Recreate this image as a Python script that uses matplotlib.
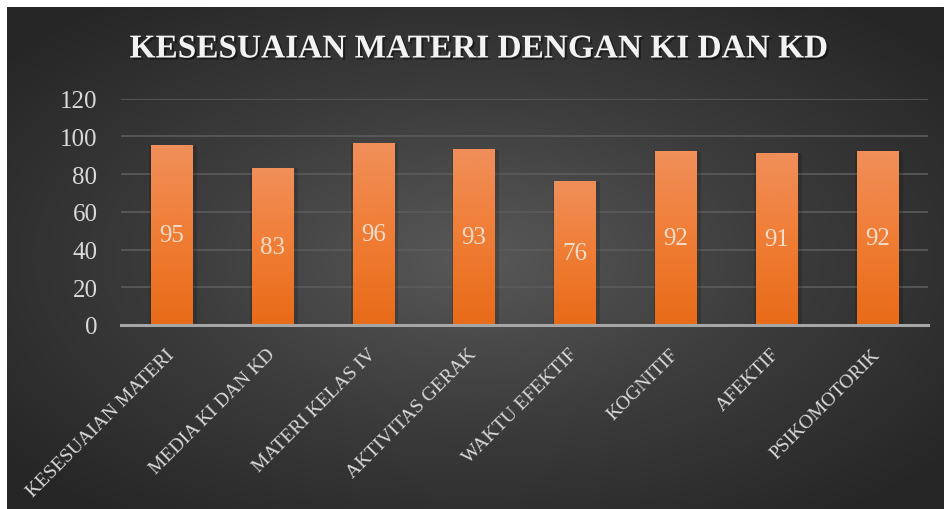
import matplotlib.pyplot as plt
import matplotlib.patheffects as pe
import numpy as np
from matplotlib.colors import LinearSegmentedColormap

plt.rcParams['font.family'] = ['Liberation Serif', 'DejaVu Serif']

categories = ['KESESUAIAN MATERI', 'MEDIA KI DAN KD', 'MATERI KELAS IV', 'AKTIVITAS GERAK',
              'WAKTU EFEKTIF', 'KOGNITIF', 'AFEKTIF', 'PSIKOMOTORIK']
values = [95, 83, 96, 93, 76, 92, 91, 92]
yticks = [0, 20, 40, 60, 80, 100, 120]
title = 'KESESUAIAN MATERI DENGAN KI DAN KD'

txt_col = '#d9d9d9'

fig = plt.figure(figsize=(9.44, 5.10), dpi=100)
fig.patch.set_facecolor('white')

# radial background
bg = fig.add_axes([7 / 944, 0, 1 - 7 / 944, 1 - 8 / 510])
bg.set_axis_off()
yy, xx = np.mgrid[-1:1:300j, -1:1:500j]
r = np.clip(np.sqrt(xx ** 2 + yy ** 2) / 1.3, 0, 1)
bg_cmap = LinearSegmentedColormap.from_list('bg', ['#585858', '#3c3c3c', '#262626'])
bg.imshow(r, cmap=bg_cmap, aspect='auto', extent=[0, 1, 0, 1], vmin=0, vmax=1)
bg.set_xlim(0, 1)
bg.set_ylim(0, 1)

ax = fig.add_axes([121 / 944, 1 - 326 / 510, (928 - 121) / 944, (326 - 99.7) / 510])
ax.patch.set_alpha(0)
x = np.arange(len(categories))
bars = ax.bar(x, values, width=0.41, color='#ee7a30', zorder=3)

bar_cmap = LinearSegmentedColormap.from_list('bar', ['#e86b18', '#f07d35', '#f08f5a'])
grad = np.linspace(0, 1, 100).reshape(-1, 1)
for b, v in zip(bars, values):
    x0, w, h = b.get_x(), b.get_width(), b.get_height()
    # soft shadow
    ax.bar(x0 + w / 2 + 0.015, h, width=w + 0.06, color='black', alpha=0.15, zorder=2)
    ax.imshow(grad, cmap=bar_cmap, aspect='auto', origin='lower',
              extent=[x0, x0 + w, 0, h], zorder=4)
    ax.text(x0 + w / 2, h / 2, str(v), ha='center', va='center', fontsize=18,
            color='#f0dccb', zorder=5)

ax.set_xlim(-0.5, len(categories) - 0.5)
ax.set_ylim(0, 120)
ax.set_yticks(yticks)
ax.set_yticklabels([str(t) for t in yticks])
ax.set_xticks(x)
ax.set_xticklabels(categories, rotation=45, ha='right', va='center', rotation_mode='anchor')
ax.tick_params(axis='y', length=0, pad=17, labelsize=18, labelcolor=txt_col)
ax.tick_params(axis='x', length=0, pad=19, labelsize=14, labelcolor=txt_col)
ax.grid(axis='y', color='#5c5c5c', linewidth=1.2, zorder=0)
ax.set_axisbelow(True)
for s in ['top', 'right', 'left']:
    ax.spines[s].set_visible(False)
ax.spines['bottom'].set_color('#a6a6a6')
ax.spines['bottom'].set_linewidth(2.2)
ax.spines['bottom'].set_zorder(6)

fig.text(0.508, 0.902, title, ha='center', va='center', fontsize=24, fontweight='bold',
         color='#f2f2f2',
         path_effects=[pe.withSimplePatchShadow(offset=(1.5, -1.5), shadow_rgbFace='black', alpha=0.45)])

fig.savefig('out.png', dpi=100, facecolor=fig.get_facecolor())
